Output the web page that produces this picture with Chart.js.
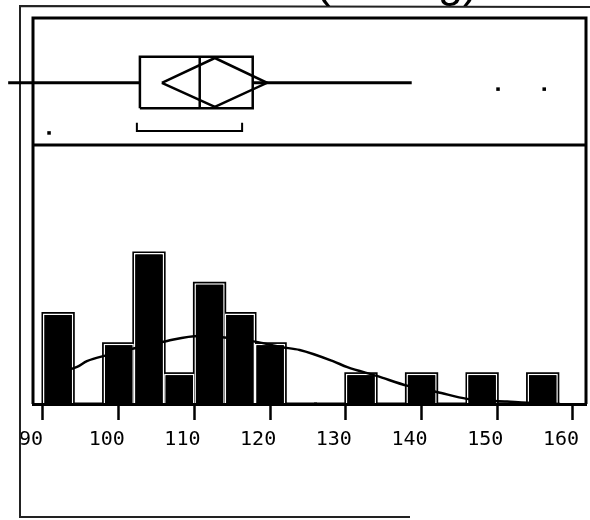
<!DOCTYPE html>
<html>
<head>
<meta charset="utf-8">
<script src="https://cdn.jsdelivr.net/npm/chart.js@4.4.1/dist/chart.umd.min.js"></script>
<style>
  html, body { margin: 0; padding: 0; background: #fff; }
  #wrap { width: 590px; height: 520px; }
</style>
</head>
<body>
<div id="wrap"><canvas id="distchart" width="590" height="520"></canvas></div>
<script>
// histogram: bins of width 4, counts
var binCenters = [92, 96, 100, 104, 108, 112, 116, 120, 124, 128, 132, 136, 140, 144, 148, 152, 156];
var binCounts = [3, 0, 2, 5, 1, 4, 3, 2, 0, 0, 1, 0, 1, 0, 1, 0, 1];

// smooth density curve (count units)
var curveX = [90.3, 94.5, 95.8, 98.5, 106.4, 110.6, 118.4, 121.3, 123.9, 128.3, 130.2, 134.1, 138.2, 142.0, 146.0, 151.3, 155.2, 158.3];
var curveY = [0.96, 1.23, 1.42, 1.62, 2.09, 2.25, 2.05, 1.89, 1.79, 1.42, 1.22, 0.93, 0.60, 0.40, 0.17, 0.08, 0.02, 0.0];

var tickValues = [90, 100, 110, 120, 130, 140, 150, 160];

// box plot summary
var quartiles = [102.8, 110.7, 117.7];   // Q1, median, Q3
var meanDiamond = [105.7, 112.7, 119.6]; // lower CI, mean, upper CI
var whiskers = [85.4, 138.7];
var outliers = [150.1, 156.2];
var shortestHalf = [102.4, 116.3];
var lowMarks = [90.8];

var titleText = 'SBP (mmHg)';

// rows inside the box plot panel (panel axis runs 0..10)
var ROW = 4.9, BOX_LO = 2.9, BOX_HI = 6.95, DIA_LO = 3.0, DIA_HI = 6.85;
var OUT_ROW = 4.4, BR_LO = 1.1, BR_HI = 1.75, MARK_ROW = 0.95;

var pts = function (list) {
    return list.map(function (p) { return { x: p[0], y: p[1] }; });
};

var boxLine = function (data, extra) {
    var ds = {
        type: 'line',
        data: pts(data),
        yAxisID: 'yBox',
        borderColor: '#000',
        borderWidth: 2.5,
        pointRadius: 0,
        tension: 0,
        fill: false,
        order: 0
    };
    for (var k in extra) { ds[k] = extra[k]; }
    return ds;
};

var framePlugin = {
    id: 'frames',
    beforeDatasetsDraw: function (chart) {
        var ctx = chart.ctx, a = chart.chartArea, sep = chart.scales.y.top;
        ctx.save();
        // outer frame
        ctx.strokeStyle = '#222';
        ctx.lineWidth = 2;
        ctx.beginPath();
        ctx.moveTo(410, 517);
        ctx.lineTo(20, 517);
        ctx.lineTo(20, 6);
        ctx.lineTo(590, 7);
        ctx.stroke();
        // inner frame and panel separator
        ctx.strokeStyle = '#000';
        ctx.lineWidth = 3;
        ctx.beginPath();
        ctx.moveTo(a.left, a.bottom);
        ctx.lineTo(a.left, a.top);
        ctx.lineTo(a.right, a.top);
        ctx.lineTo(a.right, a.bottom);
        ctx.moveTo(a.left, sep);
        ctx.lineTo(a.right, sep);
        ctx.stroke();
        // title, cut off by the top edge
        ctx.fillStyle = '#000';
        ctx.font = '45px "Liberation Sans", Arial, sans-serif';
        ctx.textAlign = 'right';
        ctx.textBaseline = 'alphabetic';
        ctx.fillText(titleText, 478, -3);
        ctx.restore();
    }
};

var hiddenAxis = function (weight, max) {
    return {
        type: 'linear',
        position: 'left',
        stack: 'panels',
        stackWeight: weight,
        min: 0,
        max: max,
        grid: { display: false, drawTicks: false },
        ticks: { display: false },
        border: { display: false }
    };
};

var ctx = document.getElementById('distchart').getContext('2d');
var chart = new Chart(ctx, {
    type: 'bar',
    data: {
        datasets: [
            boxLine([[quartiles[0], BOX_LO], [quartiles[2], BOX_LO], [quartiles[2], BOX_HI], [quartiles[0], BOX_HI], [quartiles[0], BOX_LO]]),
            boxLine([[quartiles[1], BOX_LO], [quartiles[1], BOX_HI]]),
            boxLine([[meanDiamond[0], ROW], [meanDiamond[1], DIA_HI], [meanDiamond[2], ROW], [meanDiamond[1], DIA_LO], [meanDiamond[0], ROW]]),
            boxLine([[whiskers[0], ROW], [quartiles[0], ROW]], { clip: false, borderWidth: 3 }),
            boxLine([[quartiles[2], ROW], [whiskers[1], ROW]], { borderWidth: 3 }),
            boxLine([[shortestHalf[0], BR_HI], [shortestHalf[0], BR_LO], [shortestHalf[1], BR_LO], [shortestHalf[1], BR_HI]], { borderWidth: 2 }),
            boxLine(outliers.map(function (v) { return [v, OUT_ROW]; }), {
                showLine: false, pointStyle: 'rect', pointRadius: 2.5,
                pointBackgroundColor: '#000', pointBorderWidth: 0
            }),
            boxLine(lowMarks.map(function (v) { return [v, MARK_ROW]; }), {
                showLine: false, pointStyle: 'rect', pointRadius: 2.5,
                pointBackgroundColor: '#000', pointBorderWidth: 0
            }),
            {
                type: 'line',
                data: curveX.map(function (v, i) { return { x: v, y: curveY[i] }; }),
                yAxisID: 'y',
                borderColor: '#000',
                borderWidth: 2.5,
                pointRadius: 0,
                cubicInterpolationMode: 'monotone',
                fill: false,
                order: 1
            },
            {
                // white inner edge of each bar
                data: binCenters.map(function (v, i) { return { x: v, y: binCounts[i] }; }),
                yAxisID: 'y',
                backgroundColor: '#000',
                borderColor: '#fff',
                borderWidth: 1.5,
                borderSkipped: 'start',
                inflateAmount: 0,
                grouped: false,
                barPercentage: 1,
                categoryPercentage: 1,
                order: 2
            },
            {
                // black outline behind
                data: binCenters.map(function (v, i) { return { x: v, y: binCounts[i] }; }),
                yAxisID: 'y',
                backgroundColor: '#000',
                borderWidth: 0,
                inflateAmount: 1.5,
                grouped: false,
                barPercentage: 1,
                categoryPercentage: 1,
                order: 3
            }
        ]
    },
    options: {
        responsive: false,
        animation: false,
        layout: { padding: { left: 33, right: 4, top: 18, bottom: 0 } },
        plugins: {
            legend: { display: false },
            tooltip: { enabled: false }
        },
        scales: {
            x: {
                type: 'linear',
                min: 88.68,
                max: 161.72,
                offset: false,
                afterBuildTicks: function (axis) {
                    axis.ticks = tickValues.map(function (v) { return { value: v }; });
                },
                afterFit: function (axis) {
                    axis.height = 116;
                    axis.paddingLeft = 0;
                    axis.paddingRight = 0;
                },
                grid: {
                    offset: false,
                    drawOnChartArea: false,
                    drawTicks: true,
                    tickLength: 16,
                    tickWidth: 2.5,
                    tickColor: '#000'
                },
                border: { display: true, color: '#000', width: 3, z: 1 },
                ticks: {
                    color: '#000',
                    font: { family: 'DejaVu Sans Mono', size: 20 },
                    padding: 8,
                    labelOffset: -12,
                    maxRotation: 0,
                    autoSkip: false
                }
            },
            y: hiddenAxis(259, 8.58),
            yBox: hiddenAxis(127, 10)
        }
    },
    plugins: [framePlugin]
});
</script>
</body>
</html>
